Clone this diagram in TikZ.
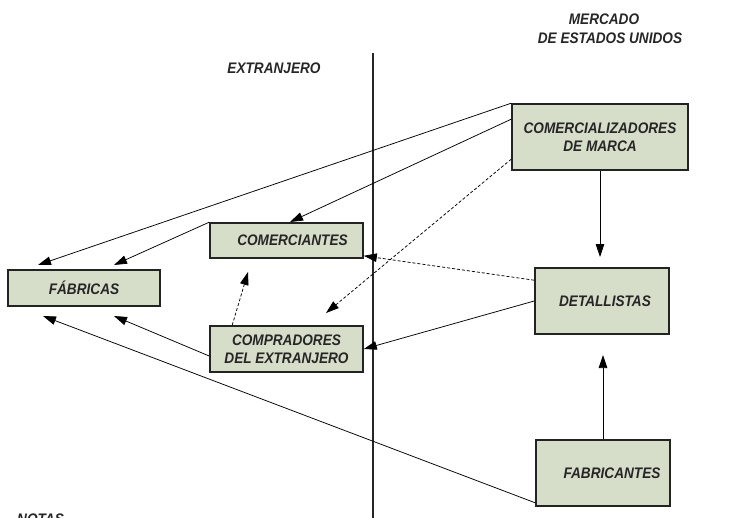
\documentclass[tikz,border=0pt]{standalone}
\usepackage{fontspec}
\setmainfont{Liberation Sans}[FakeStretch=0.89]
\usetikzlibrary{arrows.meta}
\definecolor{boxfill}{RGB}{214,222,201}
\definecolor{boxline}{RGB}{35,35,35}
\definecolor{txt}{RGB}{38,38,38}
\tikzset{
  lbl/.style={font=\fontsize{15.3}{17}\selectfont\bfseries\itshape, text=txt, align=center, inner sep=0pt},
  bx/.style={draw=boxline, line width=1.6pt, fill=boxfill, font=\fontsize{15.3}{17.5}\selectfont\bfseries\itshape, text=txt, align=center, inner sep=0pt},
  conn/.style={line width=0.75pt, -{Triangle[length=13pt,width=8.5pt]}},
  dconn/.style={conn, dash pattern=on 3pt off 2pt},
}
\begin{document}
\begin{tikzpicture}[x=1pt,y=-1pt]
\useasboundingbox (0,0) rectangle (742,517);
% labels
\node[lbl] (merc) at (604,19) {MERCADO};
\node[lbl] (eeuu) at (610,38) {DE ESTADOS UNIDOS};
\node[lbl] (ext) at (274,68) {EXTRANJERO};
\node[lbl, anchor=north west] (notas) at (17,514) {NOTAS};
% divider
\coordinate (vtop) at (373,53);
\coordinate (vbot) at (373,530);
\draw[line width=1.5pt, black!85] (vtop) -- (vbot);
% boxes
\node[bx, minimum width=176pt, minimum height=66pt] (com) at (600,137) {COMERCIALIZADORES\\DE MARCA};
\node[bx, minimum width=153pt, minimum height=35pt] (comer) at (286.5,240.5) {\hspace*{12pt}COMERCIANTES};
\node[bx, minimum width=152pt, minimum height=36pt] (fab) at (84,288) {F\'ABRICAS};
\node[bx, minimum width=153pt, minimum height=46pt] (comp) at (286.5,349) {COMPRADORES\\DEL EXTRANJERO};
\node[bx, minimum width=134pt, minimum height=66pt] (det) at (602,301) {\hspace*{6pt}DETALLISTAS};
\node[bx, minimum width=134pt, minimum height=66pt] (fabr) at (603,473) {\hspace*{18pt}FABRICANTES};
% free arrow ends
\coordinate (f1) at (38,265);
\coordinate (f2) at (114,265);
\coordinate (f3) at (114,316);
\coordinate (f4) at (43,316);
\coordinate (c1) at (290,222);
\coordinate (p1) at (326,313);
\coordinate (p2) at (248,272);
\coordinate (d1) at (600,257);
\coordinate (d2) at (603,355);
% connectors
\draw[conn] (com.north west) -- (f1);
\draw[conn] ([yshift=-16pt]com.north west) -- (c1);
\draw[conn] (comer.north west) -- (f2);
\draw[dconn] ([yshift=-56pt]com.north west) -- (p1);
\draw[dconn] ([yshift=-13pt]det.north west) -- ([yshift=3pt]comer.south east);
\draw[conn] (det.west) -- (comp.east);
\draw[dconn] ([xshift=23pt]comp.north west) -- (p2);
\draw[conn] ([yshift=-7pt]comp.west) -- (f3);
\draw[conn] ([yshift=4pt]fabr.south west) -- (f4);
\draw[conn] (com.south) -- (d1);
\draw[conn] (fabr.north) -- (d2);
\end{tikzpicture}
\end{document}
